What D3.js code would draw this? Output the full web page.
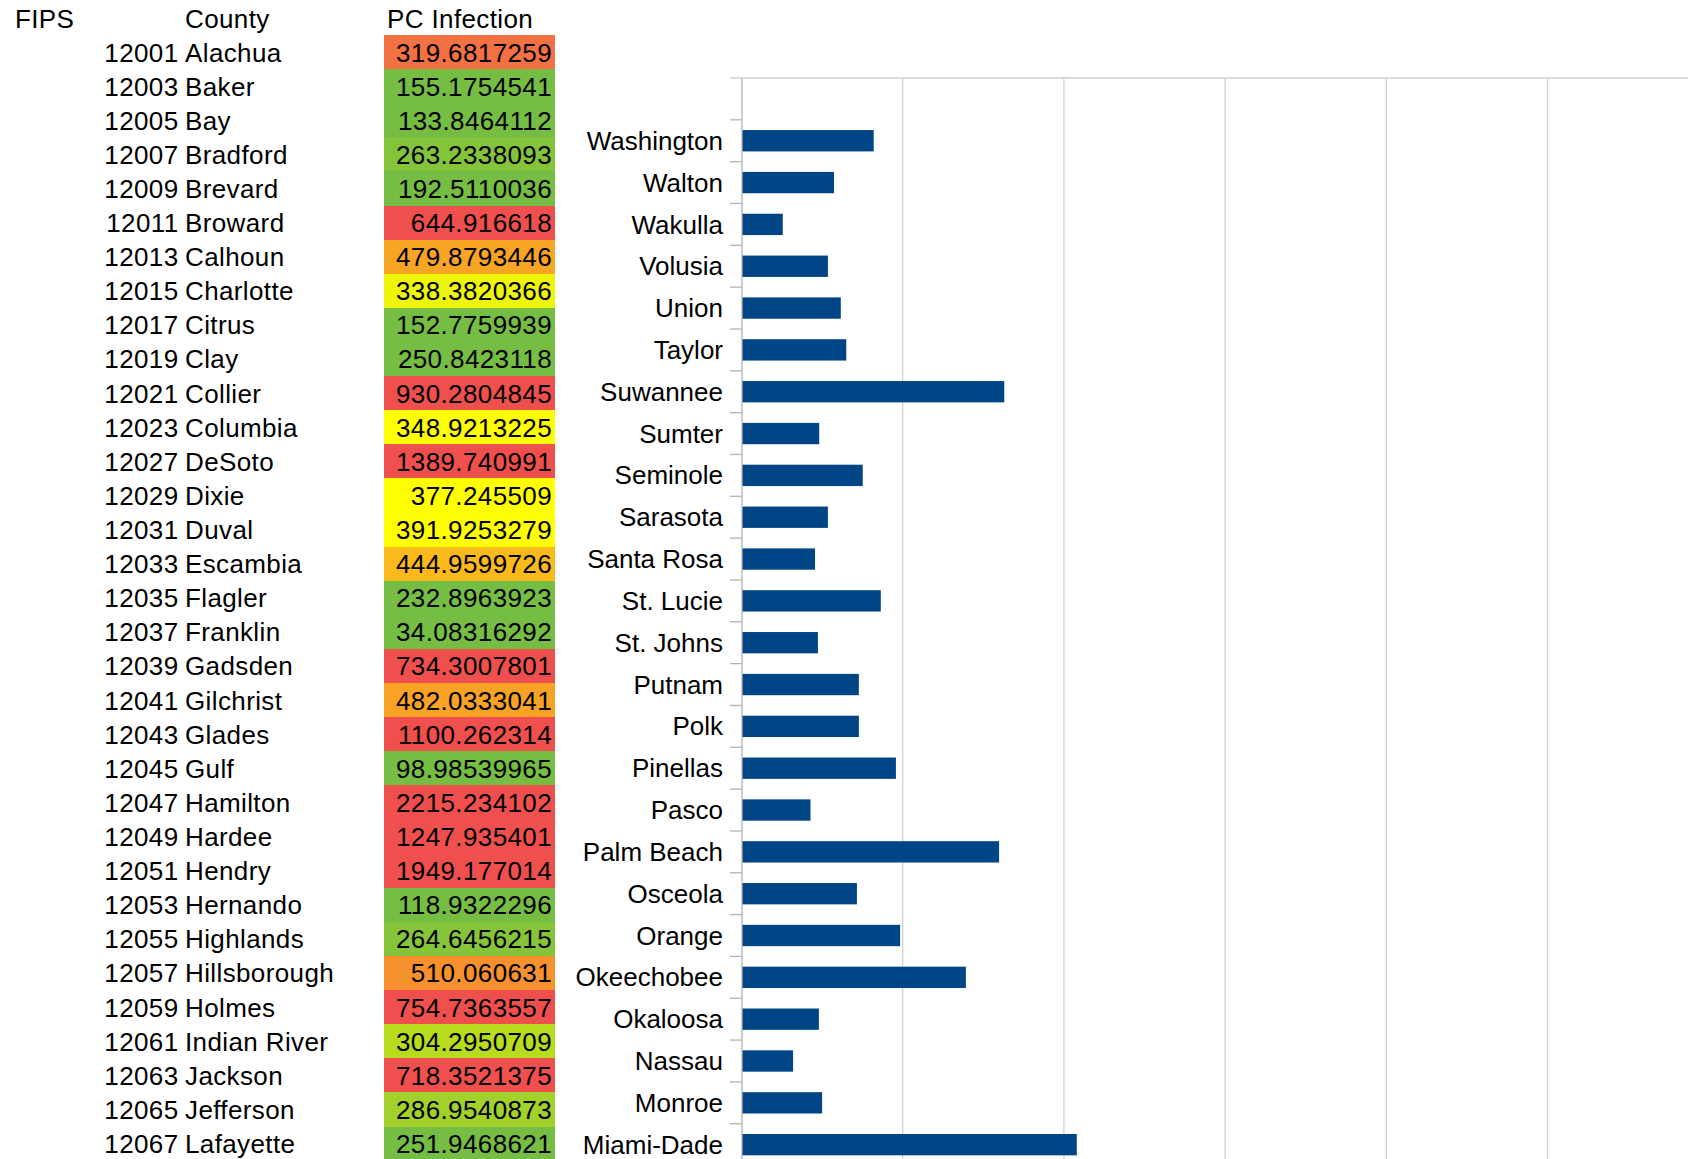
<!DOCTYPE html>
<html>
<head>
<meta charset="utf-8">
<script src="https://cdn.jsdelivr.net/npm/d3@7"></script>
<style>
  html, body { margin: 0; padding: 0; background: #fff; }
  svg { display: block; font-family: "Liberation Sans", Arial, sans-serif; }
</style>
</head>
<body>
<svg id="sheet"></svg>
<script>
// table data (left block of the sheet)
const fips = [12001, 12003, 12005, 12007, 12009, 12011, 12013, 12015, 12017, 12019, 12021,
  12023, 12027, 12029, 12031, 12033, 12035, 12037, 12039, 12041, 12043, 12045, 12047,
  12049, 12051, 12053, 12055, 12057, 12059, 12061, 12063, 12065, 12067]
const counties = ["Alachua", "Baker", "Bay", "Bradford", "Brevard", "Broward", "Calhoun",
  "Charlotte", "Citrus", "Clay", "Collier", "Columbia", "DeSoto", "Dixie", "Duval",
  "Escambia", "Flagler", "Franklin", "Gadsden", "Gilchrist", "Glades", "Gulf", "Hamilton",
  "Hardee", "Hendry", "Hernando", "Highlands", "Hillsborough", "Holmes", "Indian River",
  "Jackson", "Jefferson", "Lafayette"]
const pcInfection = [319.6817259, 155.1754541, 133.8464112, 263.2338093, 192.5110036,
  644.916618, 479.8793446, 338.3820366, 152.7759939, 250.8423118, 930.2804845, 348.9213225,
  1389.740991, 377.245509, 391.9253279, 444.9599726, 232.8963923, 34.08316292, 734.3007801,
  482.0333041, 1100.262314, 98.98539965, 2215.234102, 1247.935401, 1949.177014, 118.9322296,
  264.6456215, 510.060631, 754.7363557, 304.2950709, 718.3521375, 286.9540873, 251.9468621]
const headers = ["FIPS", "County", "PC Infection"]

// chart data (top of the bar chart, reversed category order; first slot is an empty row)
const chartCounties = ["", "Washington", "Walton", "Wakulla", "Volusia", "Union", "Taylor",
  "Suwannee", "Sumter", "Seminole", "Sarasota", "Santa Rosa", "St. Lucie", "St. Johns",
  "Putnam", "Polk", "Pinellas", "Pasco", "Palm Beach", "Osceola", "Orange", "Okeechobee",
  "Okaloosa", "Nassau", "Monroe", "Miami-Dade"]
const chartValues = [null, 410, 287, 128, 268, 308, 325, 815, 241, 376, 268, 228, 432, 237,
  364, 364, 479, 214, 799, 358, 492, 696, 240, 160, 250, 1040]
const gridTicks = [500, 1000, 1500, 2000, 2500, 3000]

const W = 1688, H = 1159
const svg = d3.select("#sheet").attr("width", W).attr("height", H)
svg.append("rect").attr("width", W).attr("height", H).attr("fill", "#fff")

// conditional formatting colour scale
const fillScale = d3.scaleLinear()
  .domain([252, 305, 350, 395, 445, 500, 600])
  .range(["#76bd43", "#b8dc1e", "#ffff00", "#ffff00", "#fbb91b", "#f7982a", "#f0504d"])
  .clamp(true)
const manualFill = {12001: "#f37142"}

const fmt = v => String(+v.toPrecision(10))

// ---------- table ----------
const rowY = d3.scaleBand().domain(fips).range([35, 35 + 34.11 * fips.length])
const rows = fips.map((f, i) => ({fips: f, county: counties[i], value: pcInfection[i]}))

const table = svg.append("g")
  .attr("font-size", 26)
  .attr("letter-spacing", 0.38)
  .attr("fill", "#000")

table.selectAll("text.head")
  .data(headers)
  .join("text")
  .attr("class", "head")
  .attr("x", (d, i) => [15, 185, 387][i])
  .attr("y", 27.5)
  .text(d => d)

table.selectAll("rect.cell")
  .data(rows)
  .join("rect")
  .attr("class", "cell")
  .attr("x", 384)
  .attr("width", 171)
  .attr("y", d => rowY(d.fips))
  .attr("height", rowY.bandwidth())
  .attr("shape-rendering", "crispEdges")
  .attr("fill", d => manualFill[d.fips] || fillScale(d.value))

table.selectAll("text.fips")
  .data(rows)
  .join("text")
  .attr("class", "fips")
  .attr("x", 178.5)
  .attr("y", d => rowY(d.fips) + 26.5)
  .attr("text-anchor", "end")
  .text(d => d.fips)

table.selectAll("text.county")
  .data(rows)
  .join("text")
  .attr("class", "county")
  .attr("x", 185)
  .attr("y", d => rowY(d.fips) + 26.5)
  .text(d => d.county)

table.selectAll("text.val")
  .data(rows)
  .join("text")
  .attr("class", "val")
  .attr("x", 552)
  .attr("y", d => rowY(d.fips) + 26.5)
  .attr("text-anchor", "end")
  .text(d => fmt(d.value))

// ---------- bar chart ----------
const chartTop = 78, slot = 41.83
const x = d3.scaleLinear().domain([0, 3000]).range([741.5, 741.5 + 6 * 161.2])
const ySlot = d3.scaleBand().domain(chartCounties).range([chartTop, chartTop + slot * chartCounties.length])
const yBar = d3.scaleBand().domain(chartCounties).range(ySlot.range())
  .paddingInner(0.49).paddingOuter(0.245)

const chart = svg.append("g")

chart.selectAll("line.grid")
  .data(gridTicks)
  .join("line")
  .attr("class", "grid")
  .attr("x1", d => x(d)).attr("x2", d => x(d))
  .attr("y1", chartTop).attr("y2", H)
  .attr("stroke", "#d0d0d0")
  .attr("stroke-width", 1.3)

chart.append("line")
  .attr("x1", 730).attr("x2", W)
  .attr("y1", chartTop).attr("y2", chartTop)
  .attr("stroke", "#d0d0d0")
  .attr("stroke-width", 1.5)

// boundary ticks between categories
chart.selectAll("line.tick")
  .data(chartCounties.slice(1))
  .join("line")
  .attr("class", "tick")
  .attr("x1", 730).attr("x2", x(0))
  .attr("y1", d => ySlot(d)).attr("y2", d => ySlot(d))
  .attr("stroke", "#b3b3b3")
  .attr("stroke-width", 1.3)

chart.selectAll("rect.bar")
  .data(chartCounties.map((c, i) => ({county: c, value: chartValues[i]})).filter(d => d.value != null))
  .join("rect")
  .attr("class", "bar")
  .attr("x", x(0) + 0.5)
  .attr("y", d => yBar(d.county))
  .attr("width", d => x(d.value) - x(0) - 0.5)
  .attr("height", yBar.bandwidth())
  .attr("fill", "#004586")

const yAxis = d3.axisLeft(ySlot).tickSizeInner(0).tickSizeOuter(0).tickPadding(18.5)
const axisG = chart.append("g")
  .attr("transform", `translate(${x(0)},0)`)
  .call(yAxis)
axisG.select(".domain").attr("stroke", "#b3b3b3").attr("stroke-width", 1.3)
axisG.selectAll("text")
  .attr("font-size", 26)
  .attr("font-family", "Liberation Sans, Arial, sans-serif")
  .attr("fill", "#000")
  .attr("dy", "0.35em")
</script>
</body>
</html>
